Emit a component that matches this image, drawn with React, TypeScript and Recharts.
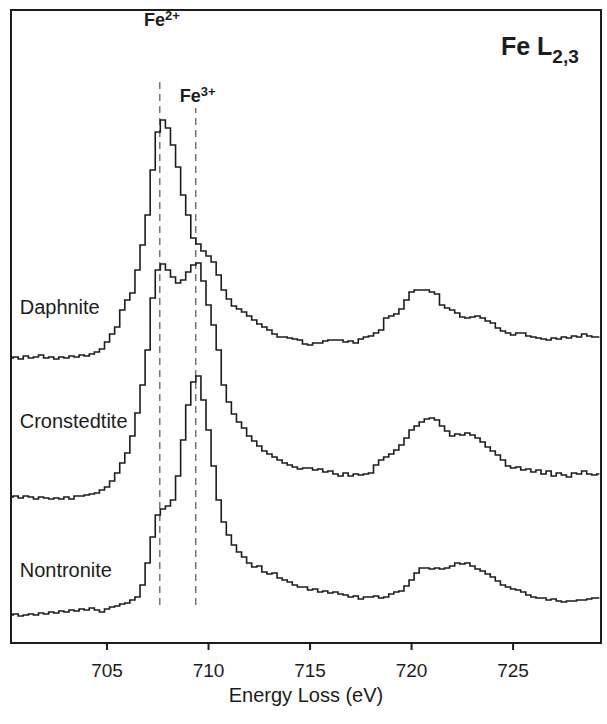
import { LineChart, Line, XAxis, YAxis, ReferenceLine, ReferenceDot, ReferenceArea } from "recharts";

// energy loss (eV), 0.25 eV channels
const energy = [
  700.25, 700.5, 700.75, 701, 701.25, 701.5, 701.75, 702, 702.25, 702.5,
  702.75, 703, 703.25, 703.5, 703.75, 704, 704.25, 704.5, 704.75, 705,
  705.25, 705.5, 705.75, 706, 706.25, 706.5, 706.75, 707, 707.25, 707.5,
  707.75, 708, 708.25, 708.5, 708.75, 709, 709.25, 709.5, 709.75, 710,
  710.25, 710.5, 710.75, 711, 711.25, 711.5, 711.75, 712, 712.25, 712.5,
  712.75, 713, 713.25, 713.5, 713.75, 714, 714.25, 714.5, 714.75, 715,
  715.25, 715.5, 715.75, 716, 716.25, 716.5, 716.75, 717, 717.25, 717.5,
  717.75, 718, 718.25, 718.5, 718.75, 719, 719.25, 719.5, 719.75, 720,
  720.25, 720.5, 720.75, 721, 721.25, 721.5, 721.75, 722, 722.25, 722.5,
  722.75, 723, 723.25, 723.5, 723.75, 724, 724.25, 724.5, 724.75, 725,
  725.25, 725.5, 725.75, 726, 726.25, 726.5, 726.75, 727, 727.25, 727.5,
  727.75, 728, 728.25, 728.5, 728.75, 729, 729.25,
];

// intensities (arbitrary units, offset spectra)
const daphnite = [
  285, 286, 284, 287, 285, 286, 288, 285, 286, 284,
  286, 285, 287, 286, 288, 287, 289, 291, 294, 301,
  309, 316, 333, 343, 350, 373, 398, 428, 473, 511,
  523, 515, 498, 476, 448, 428, 405, 399, 392, 387,
  381, 368, 353, 344, 337, 334, 331, 327, 323, 319,
  316, 313, 309, 306, 306, 305, 304, 303, 299, 298,
  300, 300, 302, 303, 303, 303, 301, 302, 300, 304,
  306, 307, 310, 313, 325, 327, 329, 334, 343, 351,
  353, 353, 353, 351, 349, 338, 335, 333, 330, 326,
  325, 326, 327, 325, 322, 320, 315, 312, 310, 308,
  310, 310, 307, 306, 305, 304, 303, 305, 304, 306,
  305, 307, 306, 309, 307, 306, 306,
];

const cronstedtite = [
  146, 147, 145, 147, 146, 144, 146, 145, 144, 145,
  144, 146, 144, 147, 147, 148, 149, 150, 153, 156,
  162, 170, 180, 190, 207, 230, 258, 293, 345, 373,
  379, 373, 366, 360, 363, 371, 378, 380, 362, 338,
  318, 293, 258, 241, 229, 221, 215, 207, 202, 197,
  192, 189, 186, 183, 180, 178, 176, 174, 175, 175,
  173, 174, 171, 172, 169, 167, 170, 167, 169, 168,
  169, 170, 178, 183, 186, 189, 193, 198, 205, 213,
  217, 221, 224, 225, 223, 217, 212, 207, 209, 208,
  210, 208, 205, 201, 196, 192, 188, 183, 177, 175,
  176, 173, 174, 171, 173, 169, 172, 167, 170, 168,
  166, 170, 169, 172, 169, 168, 169,
];

const nontronite = [
  28, 29, 27, 28, 29, 28, 30, 29, 31, 30,
  32, 31, 33, 32, 34, 33, 35, 33, 31, 34,
  36, 37, 39, 40, 43, 46, 58, 80, 106, 128,
  134, 137, 143, 167, 203, 238, 261, 267, 243, 213,
  177, 143, 121, 108, 98, 91, 86, 80, 76, 77,
  71, 69, 70, 65, 63, 61, 58, 56, 56, 53,
  54, 51, 52, 50, 51, 49, 48, 46, 47, 44,
  46, 46, 47, 45, 46, 49, 51, 52, 57, 63,
  70, 75, 75, 74, 75, 74, 75, 77, 80, 79,
  80, 77, 74, 72, 69, 66, 62, 58, 56, 54,
  53, 51, 48, 46, 45, 45, 43, 44, 42, 41,
  42, 42, 43, 43, 44, 45, 45,
];

const xTicks = [705, 710, 715, 720, 725];
const xDomain = [700.27, 729.33];
const yDomain = [0, 633];

// valence markers: energy, top of dashed line, label position
const valences = [
  { charge: "2+", e: 707.6, top: 565, labelY: 617 },
  { charge: "3+", e: 709.37, top: 535, labelY: 541 },
];

const samples = [
  { name: "Daphnite", y: 336 },
  { name: "Cronstedtite", y: 222 },
  { name: "Nontronite", y: 73 },
];

const FONT = '"Liberation Sans", Arial, Helvetica, sans-serif';
const INK = "#1c1c1c";

const data = energy.map((e, i) => ({
  e,
  daphnite: daphnite[i],
  cronstedtite: cronstedtite[i],
  nontronite: nontronite[i],
}));

export default function App() {
  return (
    <div style={{ position: "absolute", left: 0, top: 0, width: 607, height: 724, background: "#fff" }}>
      <LineChart
        width={607}
        height={724}
        data={data}
        margin={{ top: 10, right: 6, left: 11, bottom: 36 }}
      >
        <XAxis
          type="number"
          dataKey="e"
          domain={xDomain}
          ticks={xTicks}
          allowDataOverflow
          height={45}
          axisLine={{ stroke: INK, strokeWidth: 2 }}
          tickLine={{ stroke: INK, strokeWidth: 2 }}
          tickSize={7}
          tickMargin={14}
          tick={{ fontSize: 19, fill: INK, fontFamily: FONT }}
          label={{
            value: "Energy Loss (eV)",
            position: "bottom",
            offset: 0,
            style: { fontSize: 20, fill: INK, fontFamily: FONT },
          }}
        />
        <YAxis hide type="number" domain={yDomain} allowDataOverflow />
        <ReferenceArea
          x1={xDomain[0]}
          x2={xDomain[1]}
          y1={yDomain[0]}
          y2={yDomain[1]}
          fill="none"
          stroke={INK}
          strokeWidth={2}
          fillOpacity={0}
        />
        {valences.map((v) => (
          <ReferenceLine
            key={v.charge}
            segment={[{ x: v.e, y: 38 }, { x: v.e, y: v.top }]}
            stroke="#555"
            strokeWidth={1.2}
            strokeDasharray="7 5"
          />
        ))}
        {valences.map((v) => (
          <ReferenceDot
            key={"l" + v.charge}
            x={v.e}
            y={v.labelY}
            r={0}
            fill="none"
            stroke="none"
            label={{
              content: (p: any) => (
                <text
                  x={p.viewBox.x + 2}
                  y={p.viewBox.y}
                  textAnchor="middle"
                  fontFamily={FONT}
                  fontWeight="bold"
                  fontSize={18}
                  fill={INK}
                >
                  <tspan>Fe</tspan>
                  <tspan fontSize={13} dy={-6}>{v.charge}</tspan>
                </text>
              ),
            }}
          />
        ))}
        {samples.map((s) => (
          <ReferenceDot
            key={s.name}
            x={700.6}
            y={s.y}
            r={0}
            fill="none"
            stroke="none"
            label={{
              content: (p: any) => (
                <text
                  x={p.viewBox.x + 2}
                  y={p.viewBox.y}
                  dominantBaseline="central"
                  fontFamily={FONT}
                  fontSize={20}
                  fill={INK}
                >
                  {s.name}
                </text>
              ),
            }}
          />
        ))}
        <ReferenceDot
          x={724.4}
          y={588}
          r={0}
          fill="none"
          stroke="none"
          label={{
            content: (p: any) => (
              <text x={p.viewBox.x} y={p.viewBox.y} fontFamily={FONT} fontWeight="bold" fontSize={25} fill={INK}>
                <tspan>Fe L</tspan>
                <tspan fontSize={19} dy={8}>2,3</tspan>
              </text>
            ),
          }}
        />
        <Line type="step" dataKey="daphnite" stroke={INK} strokeWidth={1.6} dot={false} isAnimationActive={false} />
        <Line type="step" dataKey="cronstedtite" stroke={INK} strokeWidth={1.6} dot={false} isAnimationActive={false} />
        <Line type="step" dataKey="nontronite" stroke={INK} strokeWidth={1.6} dot={false} isAnimationActive={false} />
      </LineChart>
    </div>
  );
}
